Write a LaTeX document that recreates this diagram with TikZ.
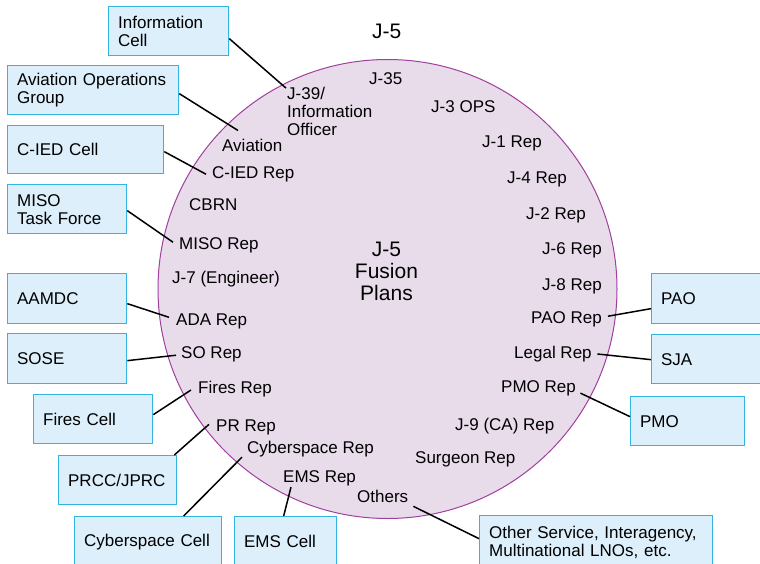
\documentclass[tikz,border=0pt]{standalone}
\usepackage{fontspec}
\setmainfont{Liberation Sans}
\definecolor{circfill}{HTML}{E8DCEB}
\definecolor{circline}{HTML}{A0409E}
\definecolor{boxfill}{HTML}{DCEFFB}
\definecolor{boxline}{HTML}{34B4E0}
\begin{document}
\begin{tikzpicture}[x=1pt,y=-1pt,
  lbl/.style={inner sep=0pt, anchor=base west, text=black, font=\fontsize{17}{18}\selectfont},
  big/.style={inner sep=0pt, text=black, font=\fontsize{21}{22}\selectfont},
  box/.style={draw=boxline, fill=boxfill, line width=1.3pt, anchor=north west, inner xsep=9.5pt, inner ysep=2pt, align=left, text=black, font=\fontsize{17}{18}\selectfont},
  link/.style={draw=black, line width=1.5pt}]
\useasboundingbox (0,0) rectangle (760,564);
\clip (0,0) rectangle (760,564);
\fill[white] (0,0) rectangle (760,564);

% circle
\node[circle, draw=circline, fill=circfill, line width=1pt, minimum size=459pt, inner sep=0pt] (fusion) at (387.5,289) {};

% title and centre
\node[big, anchor=base west] (title) at (372,39) {J-5};
\node[big, anchor=north, align=center] (fus) at (386.5,242) {J-5\\Fusion\\Plans};

% boxes
\node[box, minimum width=120pt, minimum height=49pt, text width=101pt] (ic) at (108,6) {Information\\Cell};
\node[box, minimum width=171pt, minimum height=49pt, text width=152pt] (aog) at (7,65) {Aviation Operations\\Group};
\node[box, minimum width=156pt, minimum height=48pt, text width=137pt] (cied) at (7,125) {C-IED Cell};
\node[box, minimum width=119pt, minimum height=49pt, text width=100pt] (miso) at (7,184) {MISO\\Task Force};
\node[box, minimum width=119pt, minimum height=50pt, text width=100pt] (aamdc) at (7,273) {AAMDC};
\node[box, minimum width=119pt, minimum height=50pt, text width=100pt] (sose) at (7,333) {SOSE};
\node[box, minimum width=119pt, minimum height=49pt, text width=100pt] (fires) at (33,394) {Fires Cell};
\node[box, minimum width=118pt, minimum height=49pt, text width=99pt] (prcc) at (58,455) {PRCC/JPRC};
\node[box, minimum width=147pt, minimum height=50pt, text width=128pt] (cyber) at (74,516) {Cyberspace Cell};
\node[box, minimum width=102pt, minimum height=50pt, text width=83pt] (ems) at (234,516) {EMS Cell};
\node[box, minimum width=130pt, minimum height=50pt, text width=111pt] (pao) at (651,273) {PAO};
\node[box, minimum width=130pt, minimum height=49pt, text width=111pt] (sja) at (651,334) {SJA};
\node[box, minimum width=114pt, minimum height=49pt, text width=95pt] (pmo) at (630,396) {PMO};
\node[box, minimum width=233pt, minimum height=53pt, text width=214pt] (other) at (479,515) {Other Service, Interagency,\\Multinational LNOs, etc.};

% labels in circle
\node[lbl, anchor=north west, align=left] (j39) at (287,86.6) {J-39/\\Information\\Officer};
\node[lbl] (j35) at (369,85) {J-35};
\node[lbl] (j3) at (431,113) {J-3 OPS};
\node[lbl] (j1) at (482,148) {J-1 Rep};
\node[lbl] (j4) at (507,184) {J-4 Rep};
\node[lbl] (j2) at (526,219) {J-2 Rep};
\node[lbl] (j6) at (542,254) {J-6 Rep};
\node[lbl] (j8) at (542,290) {J-8 Rep};
\node[lbl] (paor) at (531,323) {PAO Rep};
\node[lbl] (legal) at (514,358) {Legal Rep};
\node[lbl] (pmor) at (501,392) {PMO Rep};
\node[lbl] (j9) at (455,430) {J-9 (CA) Rep};
\node[lbl] (surg) at (415,463) {Surgeon Rep};
\node[lbl] (oth) at (357,502) {Others};
\node[lbl] (emsr) at (283,482) {EMS Rep};
\node[lbl] (cyr) at (247,453) {Cyberspace Rep};
\node[lbl] (prr) at (216,431) {PR Rep};
\node[lbl] (firr) at (198,393) {Fires Rep};
\node[lbl] (sor) at (181,358) {SO Rep};
\node[lbl] (adar) at (176,325) {ADA Rep};
\node[lbl] (j7) at (172,283) {J-7 (Engineer)};
\node[lbl] (misor) at (179,249) {MISO Rep};
\node[lbl] (cbrn) at (189,211) {CBRN};
\node[lbl] (ciedr) at (212,179) {C-IED Rep};
\node[lbl] (avi) at (222,152) {Aviation};

% connectors
\draw[link] ([shift={(0,7.5)}]ic.east) -- ([shift={(-1,1.5)}]j39.north west);
\draw[link] ([shift={(0,3.5)}]aog.east) -- ([shift={(16,-9)}]avi.north west);
\draw[link] ([shift={(0,2)}]cied.east) -- ([shift={(-6,-0.6)}]ciedr.west);
\draw[link] ([shift={(0,1.5)}]miso.east) -- ([shift={(-6,-2.6)}]misor.west);
\draw[link] ([shift={(0,5)}]aamdc.east) -- ([shift={(-7,-3.6)}]adar.west);
\draw[link] ([shift={(0,2)}]sose.east) -- ([shift={(-5,1.4)}]sor.west);
\draw[link] ([shift={(0,-4.5)}]fires.east) -- ([shift={(-7,1.4)}]firr.west);
\draw[link] ([shift={(-3,0)}]prcc.north east) -- ([shift={(-7,-2.6)}]prr.west);
\draw[link] ([shift={(35.5,0)}]cyber.north) -- ([shift={(-5,0.4)}]cyr.south west);
\draw[link] ([shift={(-2,0)}]ems.north) -- ([shift={(8,1.4)}]emsr.south west);
\draw[link] ([shift={(0,10)}]pao.west) -- ([shift={(6,-2.6)}]paor.east);
\draw[link] ([shift={(0,0.5)}]sja.west) -- ([shift={(5.5,0.4)}]legal.east);
\draw[link] ([shift={(0,-4.5)}]pmo.west) -- ([shift={(4.4,-2.6)}]pmor.south east);
\draw[link] ([shift={(0,-3.5)}]other.west) -- ([shift={(5,4)}]oth.south east);
\end{tikzpicture}
\end{document}
